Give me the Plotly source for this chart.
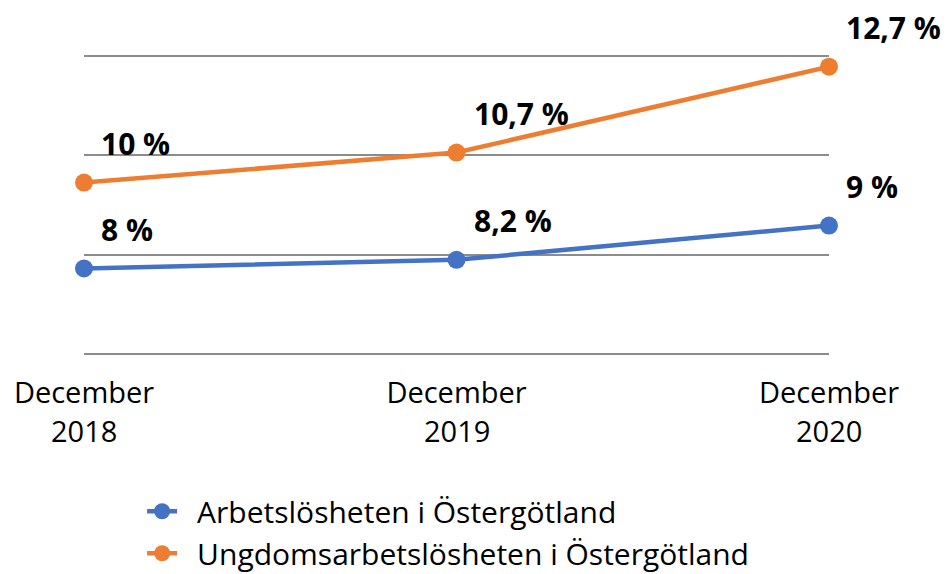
import plotly.graph_objects as go

categories = ["December 2018", "December 2019", "December 2020"]
month_labels = ["December", "December", "December"]
year_labels = ["2018", "2019", "2020"]
series_names = ["Arbetslösheten i Östergötland", "Ungdomsarbetslösheten i Östergötland"]
arbets = [8.0, 8.2, 9.0]
ungdom = [10.0, 10.7, 12.7]
arbets_labels = ["8 %", "8,2 %", "9 %"]
ungdom_labels = ["10 %", "10,7 %", "12,7 %"]
grid_vals = [6.0, 8.3167, 10.6333, 12.95]

BLUE = "#4472C4"
ORANGE = "#ED7D31"
FONT = "Open Sans"
x_idx = list(range(len(categories)))

fig = go.Figure()
for i, (name, vals, col) in enumerate([(series_names[0], arbets, BLUE), (series_names[1], ungdom, ORANGE)]):
    fig.add_trace(go.Scatter(
        x=x_idx, y=vals, name="\u2002" + name, mode="lines+markers",
        legendgroup=f"g{i}",
        line=dict(color=col, width=4.5),
        marker=dict(color=col, size=18),
        cliponaxis=False,
    ))

annotations = []
for vals, labs in [(arbets, arbets_labels), (ungdom, ungdom_labels)]:
    for xi, v, t in zip(x_idx, vals, labs):
        annotations.append(dict(
            x=xi, y=v, xref="x", yref="y", text=t, showarrow=False,
            xanchor="left", yanchor="middle", xshift=15, yshift=39,
            font=dict(family=FONT, size=30, color="#000000", weight="bold"),
        ))
for xi, yl in zip(x_idx, year_labels):
    annotations.append(dict(
        x=xi, y=0, xref="x", yref="paper", text=yl, showarrow=False,
        xanchor="center", yanchor="middle", yshift=-74,
        font=dict(family=FONT, size=29, color="#000000"),
    ))

fig.update_layout(
    width=951, height=574,
    margin=dict(l=76, r=130, t=46, b=226, autoexpand=False),
    paper_bgcolor="white", plot_bgcolor="white",
    showlegend=True,
    legend=dict(
        x=0.078, xanchor="left", y=0.1685, yanchor="top", yref="container",
        font=dict(family=FONT, size=30, color="#000000"),
        tracegroupgap=0, itemwidth=30,
        bgcolor="rgba(0,0,0,0)",
    ),
    annotations=annotations,
)
fig.update_xaxes(
    range=[0, 2], tickvals=x_idx, ticktext=month_labels, automargin=False,
    showgrid=False, zeroline=False, showline=False,
    ticks="outside", ticklen=11, tickcolor="rgba(0,0,0,0)",
    tickfont=dict(family=FONT, size=29, color="#000000"),
)
fig.update_yaxes(
    range=[5.96, 12.996], tickvals=grid_vals, showticklabels=False, automargin=False,
    showgrid=True, gridcolor="#8c8c8c", gridwidth=2.2,
    zeroline=False, showline=False,
)

fig.write_html("out.html")
